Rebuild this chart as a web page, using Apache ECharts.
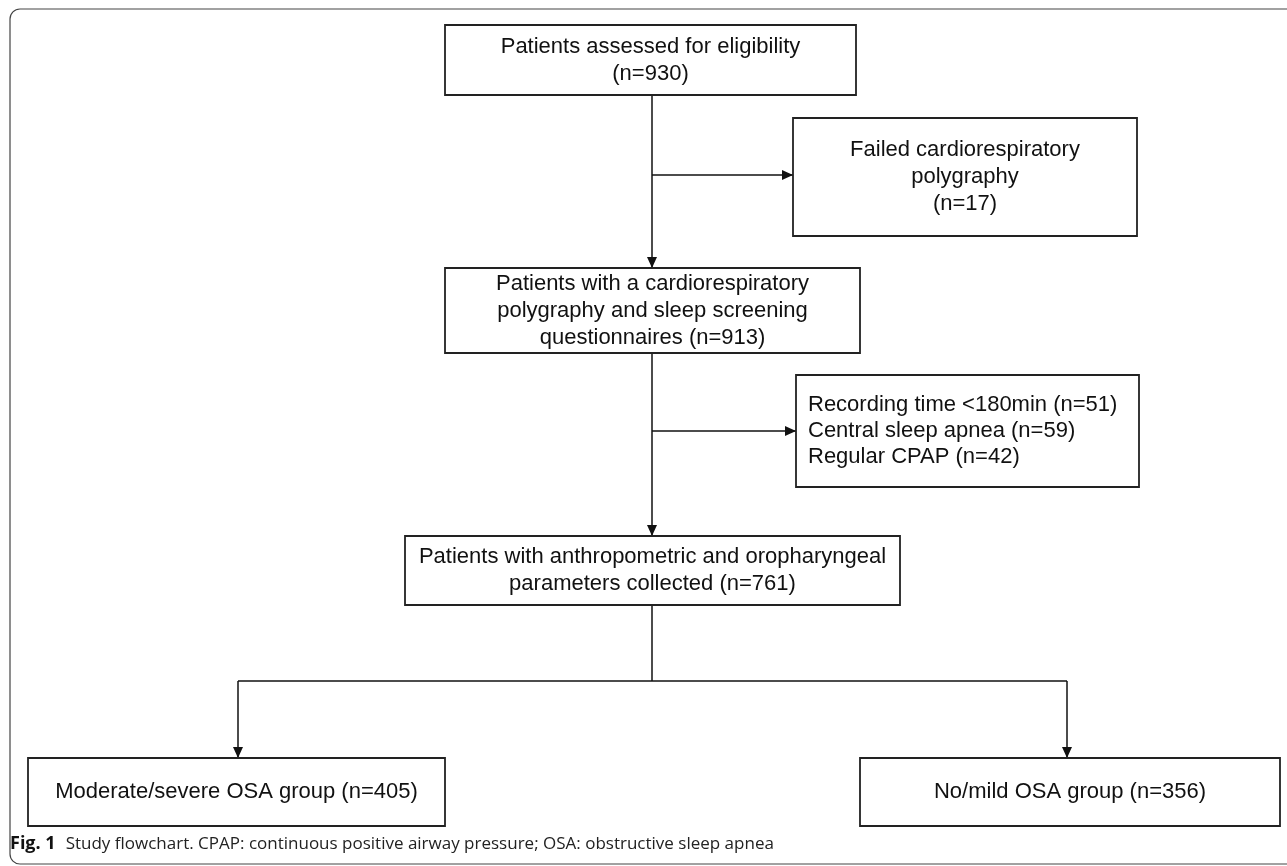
<!DOCTYPE html>
<html>
<head>
<meta charset="utf-8">
<title>Study flowchart</title>
<script src="https://cdn.jsdelivr.net/npm/echarts@6/dist/echarts.min.js"></script>
<style>
  html, body { margin: 0; padding: 0; background: #fff; }
  #chart { width: 1287px; height: 866px; }
</style>
</head>
<body>
<div id="chart"></div>
<script>
// flowchart values
const stageNames = [
  'Patients assessed for eligibility',
  'Failed cardiorespiratory\npolygraphy',
  'Patients with a cardiorespiratory\npolygraphy and sleep screening\nquestionnaires',
  'Patients with anthropometric and oropharyngeal\nparameters collected',
  'Moderate/severe OSA group',
  'No/mild OSA group'
]
const stageCounts = [930, 17, 913, 761, 405, 356]
const exclusionReasons = ['Recording time <180min', 'Central sleep apnea', 'Regular CPAP']
const exclusionCounts = [51, 59, 42]
const captionLabel = 'Fig. 1'
const captionText = 'Study flowchart. CPAP: continuous positive airway pressure; OSA: obstructive sleep apnea'

// layout in axis units (x 0..1287, y 0..866 downwards)
const boxLayout = [
  { x0: 445, x1: 856, y0: 25, y1: 95, countOwnLine: true },
  { x0: 793, x1: 1137, y0: 118, y1: 236, countOwnLine: true },
  { x0: 445, x1: 860, y0: 268, y1: 353, countOwnLine: false },
  { x0: 405, x1: 900, y0: 536, y1: 605, countOwnLine: false },
  { x0: 28, x1: 445, y0: 758, y1: 826, countOwnLine: false },
  { x0: 860, x1: 1280, y0: 758, y1: 826, countOwnLine: false }
]
const exclusionLayout = { x0: 796, x1: 1139, y0: 375, y1: 487, pad: 12 }
// connectors: from (x, y) to (x, y), arrow head at the end or not
const links = [
  [652, 95, 652, 268, 1],
  [652, 175, 793, 175, 1],
  [652, 353, 652, 536, 1],
  [652, 431, 796, 431, 1],
  [652, 605, 652, 681, 0],
  [238, 681, 1067, 681, 0],
  [238, 681, 238, 758, 1],
  [1067, 681, 1067, 758, 1]
]

const boxFont = 'Liberation Sans, Arial, Helvetica, sans-serif'
const ink = '#111'

function stageText(i) {
  const sep = boxLayout[i].countOwnLine ? '\n' : ' '
  return stageNames[i] + sep + '(n=' + stageCounts[i] + ')'
}

function boxRect(api) {
  const p0 = api.coord([api.value(0), api.value(1)])
  const p1 = api.coord([api.value(2), api.value(3)])
  return { x: p0[0], y: p0[1], width: p1[0] - p0[0], height: p1[1] - p0[1] }
}

const chart = echarts.init(document.getElementById('chart'))

chart.setOption({
  animation: false,
  backgroundColor: '#fff',
  title: {
    text: '{b|' + captionLabel + '}  {r|' + captionText + '}',
    left: 10,
    top: 835,
    padding: 0,
    textStyle: {
      fontWeight: 'normal',
      rich: {
        b: { fontFamily: 'Open Sans', fontWeight: 'bold', fontSize: 18, color: '#111' },
        r: { fontFamily: 'Open Sans', fontWeight: 'normal', fontSize: 17, color: '#222' }
      }
    }
  },
  graphic: [{
    type: 'rect',
    silent: true,
    shape: { x: 10, y: 9, width: 1300, height: 855, r: 10 },
    style: { fill: 'none', stroke: '#444', lineWidth: 1.2 }
  }],
  grid: { left: 0, right: 0, top: 0, bottom: 0 },
  xAxis: { type: 'value', min: 0, max: 1287, show: false },
  yAxis: { type: 'value', min: 0, max: 866, inverse: true, show: false },
  series: [
    {
      type: 'custom',
      name: 'links',
      z: 1,
      data: links,
      encode: { x: [0, 2], y: [1, 3] },
      renderItem(params, api) {
        const a = api.coord([api.value(0), api.value(1)])
        const b = api.coord([api.value(2), api.value(3)])
        const children = [{
          type: 'line',
          shape: { x1: a[0], y1: a[1], x2: b[0], y2: b[1] },
          style: { stroke: ink, lineWidth: 1.5 }
        }]
        if (api.value(4)) {
          const len = Math.hypot(b[0] - a[0], b[1] - a[1])
          const ux = (b[0] - a[0]) / len, uy = (b[1] - a[1]) / len
          const hl = 11, hw = 5
          const bx = b[0] - ux * hl, by = b[1] - uy * hl
          children.push({
            type: 'polygon',
            shape: { points: [[b[0], b[1]], [bx - uy * hw, by + ux * hw], [bx + uy * hw, by - ux * hw]] },
            style: { fill: ink }
          })
        }
        return { type: 'group', children }
      }
    },
    {
      type: 'custom',
      name: 'stages',
      z: 2,
      data: boxLayout.map(b => [b.x0, b.y0, b.x1, b.y1]),
      encode: { x: [0, 2], y: [1, 3] },
      renderItem(params, api) {
        const r = boxRect(api)
        return {
          type: 'group',
          children: [
            { type: 'rect', shape: r, style: { fill: '#fff', stroke: '#222', lineWidth: 1.8 } },
            {
              type: 'text',
              x: r.x + r.width / 2,
              y: r.y + r.height / 2,
              style: {
                text: stageText(params.dataIndex),
                fontFamily: boxFont, fontSize: 22, lineHeight: 27,
                fill: ink, align: 'center', verticalAlign: 'middle'
              }
            }
          ]
        }
      }
    },
    {
      type: 'custom',
      name: 'exclusions',
      z: 2,
      data: [[exclusionLayout.x0, exclusionLayout.y0, exclusionLayout.x1, exclusionLayout.y1]],
      encode: { x: [0, 2], y: [1, 3] },
      renderItem(params, api) {
        const r = boxRect(api)
        const lines = exclusionReasons.map((s, i) => s + ' (n=' + exclusionCounts[i] + ')')
        return {
          type: 'group',
          children: [
            { type: 'rect', shape: r, style: { fill: '#fff', stroke: '#222', lineWidth: 1.8 } },
            {
              type: 'text',
              x: r.x + exclusionLayout.pad,
              y: r.y + r.height / 2,
              style: {
                text: lines.join('\n'),
                fontFamily: boxFont, fontSize: 22, lineHeight: 26,
                fill: ink, align: 'left', verticalAlign: 'middle'
              }
            }
          ]
        }
      }
    }
  ]
})

window.addEventListener('resize', () => chart.resize())
</script>
</body>
</html>
